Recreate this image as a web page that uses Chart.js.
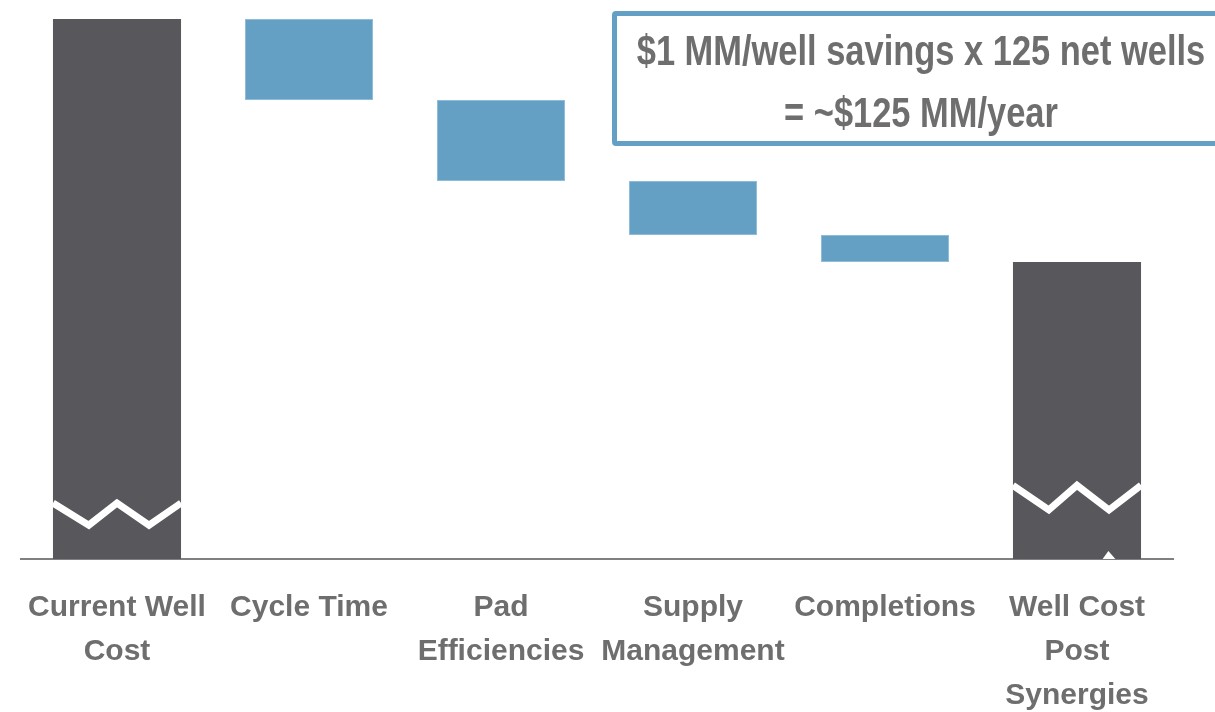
<!DOCTYPE html>
<html lang="en">
<head>
    <meta charset="UTF-8">
    <title>Well Cost Synergies</title>
    <script src="https://cdn.jsdelivr.net/npm/chart.js"></script>
    <style>
        html, body {
            margin: 0;
            padding: 0;
            background: #ffffff;
            overflow: hidden;
        }
        #wrap {
            position: relative;
            width: 1215px;
            height: 712px;
            overflow: hidden;
        }
        /* Savings call-out box */
        #callout {
            position: absolute;
            left: 612px;
            top: 11px;
            width: 618px;
            height: 135px;
            border: 5px solid #64a0c5;
            border-radius: 4px;
            box-sizing: border-box;
            font-family: 'Liberation Sans', Arial, sans-serif;
            font-weight: bold;
            font-size: 42px;
            line-height: 47px;
            color: #6e6e6e;
        }
        #callout div {
            position: absolute;
            left: 50%;
            white-space: nowrap;
            transform: translateX(-50%) scaleX(0.82);
        }
    </style>
</head>
<body>
<div id="wrap">
    <canvas id="waterfall" width="1215" height="712"></canvas>
    <div id="callout">
        <div style="top: 11px;">$1 MM/well savings x 125 net wells</div>
        <div style="top: 73px;">= ~$125 MM/year</div>
    </div>
</div>

<script>
    // Categories (x tick labels, one array entry per line)
    const categories = [
        ['Current Well', 'Cost'],
        'Cycle Time',
        ['Pad', 'Efficiencies'],
        ['Supply', 'Management'],
        'Completions',
        ['Well Cost', 'Post', 'Synergies']
    ];

    // Values in $MM per well (axis is broken, so start value is relative)
    const startCost = 2.2;
    const savings = [0.33, 0.33, 0.22, 0.11];

    // Build floating bars for the waterfall
    const bars = [[0, startCost]];
    let level = startCost;
    savings.forEach(s => {
        bars.push([level - s, level]);
        level -= s;
    });
    bars.push([0, level]);

    const dark = '#58575c';
    const blue = '#64a0c4';
    const isTotal = i => i === 0 || i === bars.length - 1;
    const bgColors = bars.map((b, i) => isTotal(i) ? dark : blue);
    const bdColors = bars.map((b, i) => isTotal(i) ? dark : '#8fbcd9');
    const bdWidths = bars.map((b, i) => isTotal(i) ? 0 : 1);

    // White zig-zag "axis break" marks on the total bars
    const breakMarks = [
        { index: 0, hi: 0.228, lo: 0.138, notch: false },
        { index: 5, hi: 0.300, lo: 0.200, notch: true }
    ];
    const zigX = [0.0, 0.28, 0.5, 0.75, 1.0];

    const breakPlugin = {
        id: 'breakMarks',
        afterDatasetsDraw(chart) {
            const ctx = chart.ctx;
            const meta = chart.getDatasetMeta(0);
            const y = chart.scales.y;
            breakMarks.forEach(m => {
                const el = meta.data[m.index];
                const left = el.x - el.width / 2;
                const w = el.width;
                const top = y.getPixelForValue(bars[m.index][1]);
                const bottom = y.getPixelForValue(0);
                ctx.save();
                ctx.beginPath();
                ctx.rect(left, top, w, bottom - top);
                ctx.clip();
                ctx.strokeStyle = '#ffffff';
                ctx.lineWidth = 7;
                ctx.lineJoin = 'miter';
                ctx.beginPath();
                zigX.forEach((f, k) => {
                    const px = left + f * w;
                    const py = y.getPixelForValue(k % 2 === 0 ? m.hi : m.lo);
                    if (k === 0) ctx.moveTo(px, py); else ctx.lineTo(px, py);
                });
                ctx.stroke();
                if (m.notch) {
                    ctx.fillStyle = '#ffffff';
                    ctx.beginPath();
                    ctx.moveTo(left + 0.70 * w, bottom);
                    ctx.lineTo(left + 0.745 * w, bottom - 8);
                    ctx.lineTo(left + 0.80 * w, bottom);
                    ctx.closePath();
                    ctx.fill();
                }
                ctx.restore();
            });
        }
    };

    const ctx = document.getElementById('waterfall').getContext('2d');
    new Chart(ctx, {
        type: 'bar',
        data: {
            labels: categories,
            datasets: [{
                data: bars,
                backgroundColor: bgColors,
                borderColor: bdColors,
                borderWidth: bdWidths,
                borderSkipped: false,
                categoryPercentage: 1.0,
                barPercentage: 0.667
            }]
        },
        options: {
            responsive: false,
            animation: false,
            layout: {
                padding: { top: 19, left: 21, right: 42, bottom: 0 }
            },
            plugins: {
                legend: { display: false },
                tooltip: { enabled: false }
            },
            scales: {
                x: {
                    grid: { display: false, drawTicks: false },
                    border: { display: true, color: '#808080', width: 2 },
                    ticks: {
                        color: '#6e6e6e',
                        padding: 27,
                        maxRotation: 0,
                        autoSkip: false,
                        font: {
                            family: "'Liberation Sans', Arial, sans-serif",
                            weight: 'bold',
                            size: 30,
                            lineHeight: '44px'
                        }
                    },
                    afterFit(scale) {
                        scale.height = 153;
                        scale.paddingLeft = 0;
                        scale.paddingRight = 0;
                    }
                },
                y: {
                    display: false,
                    min: 0,
                    max: startCost
                }
            }
        },
        plugins: [breakPlugin]
    });
</script>
</body>
</html>
